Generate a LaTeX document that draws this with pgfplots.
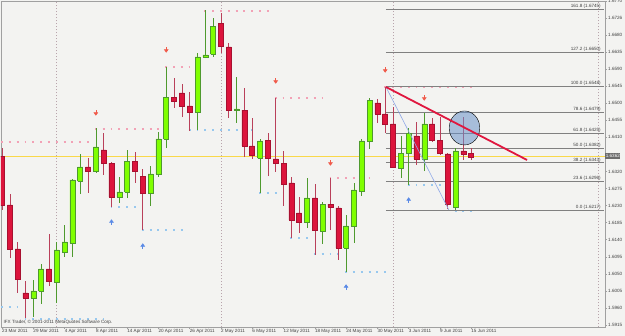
\documentclass[border=0pt]{standalone}
\usepackage{pgfplots}
\pgfplotsset{compat=1.18}
\usepackage{pgfplotstable}
\usepackage{fontspec}
\setmainfont{Liberation Sans}
\usetikzlibrary{backgrounds}

\definecolor{bg}{HTML}{F3F3F1}
\definecolor{bullfill}{HTML}{7FFF00}
\definecolor{bulledge}{HTML}{4E9A2E}
\definecolor{bearfill}{HTML}{DC143C}
\definecolor{bearedge}{HTML}{A81030}
\definecolor{fibgray}{HTML}{808080}
\definecolor{pinkdot}{HTML}{F2A2B6}
\definecolor{bluedot}{HTML}{98C8EE}
\definecolor{arrowred}{HTML}{F05A4A}
\definecolor{arrowblue}{HTML}{5A8AE6}
\definecolor{sepcol}{HTML}{B8A4AC}
\definecolor{yel}{HTML}{F9D84A}
\definecolor{trend}{HTML}{E0173F}
\definecolor{blueline}{HTML}{8FA8E8}
\definecolor{circ}{HTML}{6A92C8}
\definecolor{labelcol}{HTML}{404040}
\definecolor{framecol}{HTML}{A0A0A0}

\newcommand\tinyf{\fontsize{4.6}{5.2}\selectfont}

\pgfdeclareplotmark{fracdown}{%
  \pgfpathmoveto{\pgfqpoint{0pt}{2.8pt}}\pgfpathlineto{\pgfqpoint{0pt}{-0.5pt}}\pgfusepathqstroke
  \pgfpathmoveto{\pgfqpoint{-1.8pt}{0.3pt}}\pgfpathlineto{\pgfqpoint{1.8pt}{0.3pt}}%
  \pgfpathlineto{\pgfqpoint{0pt}{-2.2pt}}\pgfpathclose\pgfusepathqfillstroke}
\pgfdeclareplotmark{fracup}{%
  \pgfpathmoveto{\pgfqpoint{0pt}{-2.8pt}}\pgfpathlineto{\pgfqpoint{0pt}{0.5pt}}\pgfusepathqstroke
  \pgfpathmoveto{\pgfqpoint{-1.8pt}{-0.3pt}}\pgfpathlineto{\pgfqpoint{1.8pt}{-0.3pt}}%
  \pgfpathlineto{\pgfqpoint{0pt}{2.2pt}}\pgfpathclose\pgfusepathqfillstroke}

\tikzset{
  bull wick/.style={bulledge, line width=0.6pt},
  bear wick/.style={bearedge!80!white, line width=0.6pt},
  bull body/.style={fill=bullfill, draw=bulledge, line width=0.5pt},
  bear body/.style={fill=bearfill, draw=bearedge, line width=0.5pt},
  pinklevel/.style={pinkdot, line width=1.9pt, dash pattern=on 1.9pt off 5.92pt},
  bluelevel/.style={bluedot, line width=1.9pt, dash pattern=on 1.9pt off 5.92pt},
  fibline/.style={fibgray, line width=0.8pt},
  fiblabel/.style={anchor=south east, inner sep=0.4pt, font=\tinyf, text=labelcol},
  sep/.style={sepcol, line width=0.6pt, dash pattern=on 1pt off 2pt},
}

% daily candles: index, open, high, low, close
\pgfplotstableread{
i o h l c
0 1.63609 1.63820 1.62184 1.62316
1 1.62316 1.62606 1.60917 1.61155
2 1.61155 1.61340 1.59994 1.60363
3 1.59994 1.60310 1.59334 1.59862
4 1.59862 1.60337 1.59360 1.60047
5 1.60047 1.60759 1.59703 1.60627
6 1.60627 1.61551 1.60179 1.60310
7 1.60284 1.61340 1.59730 1.61129
8 1.61076 1.61788 1.60944 1.61340
9 1.61313 1.63002 1.60944 1.62976
10 1.62949 1.63662 1.62606 1.63319
11 1.63319 1.63556 1.62633 1.63213
12 1.63213 1.64348 1.63161 1.63847
13 1.63768 1.64216 1.63108 1.63424
14 1.63424 1.63451 1.62263 1.62527
15 1.62527 1.63055 1.62369 1.62659
16 1.62659 1.63768 1.62501 1.63477
17 1.63477 1.63715 1.62897 1.63213
18 1.63081 1.63266 1.61656 1.62633
19 1.62633 1.63345 1.62290 1.63134
20 1.63134 1.64243 1.63055 1.64058
21 1.64058 1.65958 1.63820 1.65166
22 1.65166 1.65668 1.64876 1.65061
23 1.65272 1.65509 1.64638 1.64929
24 1.64929 1.65298 1.64269 1.64770
25 1.64770 1.66327 1.64295 1.66222
26 1.66222 1.67462 1.66195 1.66275
27 1.66301 1.67251 1.66222 1.67040
28 1.67119 1.67383 1.66327 1.66512
29 1.66486 1.66591 1.64612 1.64823
30 1.64823 1.65694 1.64480 1.64850
31 1.64823 1.65404 1.63583 1.63873
32 1.63873 1.64612 1.63530 1.63636
33 1.63556 1.64058 1.62633 1.64005
34 1.64031 1.64216 1.63081 1.63556
35 1.63530 1.65140 1.63187 1.63424
36 1.63424 1.63741 1.62290 1.62870
37 1.62897 1.63055 1.61445 1.61920
38 1.62105 1.62527 1.61577 1.61867
39 1.61867 1.63029 1.61709 1.62501
40 1.62501 1.62870 1.60997 1.61656
41 1.61630 1.62395 1.61287 1.62342
42 1.62342 1.63029 1.61656 1.62263
43 1.62237 1.62290 1.60865 1.61181
44 1.61181 1.62052 1.60548 1.61762
45 1.61762 1.62897 1.61313 1.62712
46 1.62685 1.64058 1.62554 1.64005
47 1.64005 1.65140 1.63794 1.65087
48 1.65008 1.65113 1.64480 1.64718
49 1.64718 1.65430 1.64216 1.64454
50 1.64454 1.64902 1.63293 1.63319
51 1.63293 1.64137 1.63029 1.63688
52 1.63688 1.64348 1.62844 1.64216
53 1.64137 1.64506 1.63372 1.63530
54 1.63530 1.64744 1.63213 1.64454
55 1.64454 1.64612 1.63979 1.64031
56 1.64031 1.64638 1.63636 1.63688
57 1.63662 1.63688 1.62211 1.62342
58 1.62263 1.63820 1.62184 1.63741
59 1.63741 1.64638 1.63504 1.63662
60 1.63688 1.63820 1.63504 1.63583
}\ohlc

\begin{document}
\begin{tikzpicture}
\begin{axis}[
  scale only axis, width=604pt, height=326pt,
  xmin=-0.128, xmax=77.11, ymin=1.59096, ymax=1.67700,
  clip mode=individual,
  axis background/.style={fill=bg},
  axis line style={draw=framecol, line width=0.7pt},
  tick align=outside, major tick length=2pt,
  tick style={framecol, line width=0.5pt},
  xtick pos=bottom, ytick pos=right,
  scaled y ticks=false, scaled x ticks=false,
  xtick={0,4,8,12,16,20,24,28,32,36,40,44,48,52,56,60},
  xticklabels={23 Mar 2011, 29 Mar 2011, 4 Apr 2011, 8 Apr 2011, 14 Apr 2011, 20 Apr 2011, 26 Apr 2011, 2 May 2011, 6 May 2011, 12 May 2011, 18 May 2011, 24 May 2011, 30 May 2011, 3 Jun 2011, 9 Jun 2011, 15 Jun 2011},
  xticklabel style={anchor=north west, inner sep=0.5pt, xshift=-0.5pt, font=\tinyf, text=labelcol},
  ytick={1.5915,1.5960,1.6005,1.6050,1.6095,1.6140,1.6185,1.6230,1.6275,1.6320,1.6410,1.6455,1.6500,1.6545,1.6590,1.6635,1.6680,1.6725,1.6770},
  yticklabels={1.5915,1.5960,1.6005,1.6050,1.6095,1.6140,1.6185,1.6230,1.6275,1.6320,1.6410,1.6455,1.6500,1.6545,1.6590,1.6635,1.6680,1.6726,1.6770},
  yticklabel style={anchor=west, inner sep=0.5pt, xshift=0.5pt, font=\tinyf, text=labelcol},
]
% period separators
\addplot[sep] coordinates {(7,1.5909) (7,1.6771)};
\addplot[sep] coordinates {(28,1.5909) (28,1.6771)};
\addplot[sep] coordinates {(50,1.5909) (50,1.6771)};
\addplot[sep] coordinates {(76.2,1.5909) (76.2,1.6771)};

% yellow horizontal line
\addplot[yel, line width=0.9pt] coordinates {(-0.2,1.63609) (78,1.63609)};

% fractal levels (dots on each bar)
\addplot[pinklevel] coordinates {(-0.12,1.63979) (11.1,1.63979)};
\addplot[pinklevel] coordinates {(11.88,1.64322) (20.1,1.64322)};
\addplot[pinklevel] coordinates {(20.88,1.65958) (24.1,1.65958)};
\addplot[pinklevel] coordinates {(25.88,1.67436) (34.1,1.67436)};
\addplot[pinklevel] coordinates {(34.88,1.65140) (41.1,1.65140)};
\addplot[pinklevel] coordinates {(41.88,1.63029) (47.1,1.63029)};
\addplot[pinklevel] coordinates {(48.88,1.65430) (60.1,1.65430)};
\addplot[bluelevel] coordinates {(-0.12,1.59624) (2.1,1.59624)};
\addplot[bluelevel] coordinates {(2.88,1.59308) (13.1,1.59308)};
\addplot[bluelevel] coordinates {(13.88,1.62263) (17.1,1.62263)};
\addplot[bluelevel] coordinates {(17.88,1.61656) (23.1,1.61656)};
\addplot[bluelevel] coordinates {(23.88,1.64295) (32.1,1.64295)};
\addplot[bluelevel] coordinates {(32.88,1.62633) (36.1,1.62633)};
\addplot[bluelevel] coordinates {(36.88,1.61445) (39.1,1.61445)};
\addplot[bluelevel] coordinates {(39.88,1.61023) (43.1,1.61023)};
\addplot[bluelevel] coordinates {(43.88,1.60548) (49.1,1.60548)};
\addplot[bluelevel] coordinates {(51.88,1.62844) (56.1,1.62844)};
\addplot[bluelevel] coordinates {(57.88,1.62158) (60.1,1.62158)};

% Fibonacci retracement
\addplot[fibline] coordinates {(49.1,1.67470) (76.95,1.67470)} node[fiblabel, pos=0.99] {161.8 (1.6745)};
\addplot[fibline] coordinates {(49.1,1.66354) (76.95,1.66354)} node[fiblabel, pos=0.99] {127.2 (1.6650)};
\addplot[fibline] coordinates {(49.1,1.65456) (76.95,1.65456)} node[fiblabel, pos=0.99] {100.0 (1.6548)};
\addplot[fibline] coordinates {(49.1,1.64760) (76.95,1.64760)} node[fiblabel, pos=0.99] {78.6 (1.6479)};
\addplot[fibline] coordinates {(49.1,1.64203) (76.95,1.64203)} node[fiblabel, pos=0.99] {61.8 (1.6425)};
\addplot[fibline] coordinates {(49.1,1.63815) (76.95,1.63815)} node[fiblabel, pos=0.99] {50.0 (1.6382)};
\addplot[fibline] coordinates {(49.1,1.63430) (76.95,1.63430)} node[fiblabel, pos=0.99] {38.2 (1.6343)};
\addplot[fibline] coordinates {(49.1,1.62943) (76.95,1.62943)} node[fiblabel, pos=0.99] {23.6 (1.6296)};
\addplot[fibline] coordinates {(49.1,1.62171) (76.95,1.62171)} node[fiblabel, pos=0.99] {0.0 (1.6217)};

% candles
\pgfplotstablegetrowsof{\ohlc}
\pgfmathtruncatemacro{\lastrow}{\pgfplotsretval-1}
\pgfplotsinvokeforeach{0,...,\lastrow}{%
  \pgfplotstablegetelem{#1}{i}\of\ohlc \edef\ci{\pgfplotsretval}%
  \pgfplotstablegetelem{#1}{o}\of\ohlc \edef\co{\pgfplotsretval}%
  \pgfplotstablegetelem{#1}{h}\of\ohlc \edef\ch{\pgfplotsretval}%
  \pgfplotstablegetelem{#1}{l}\of\ohlc \edef\cl{\pgfplotsretval}%
  \pgfplotstablegetelem{#1}{c}\of\ohlc \edef\cc{\pgfplotsretval}%
  \pgfmathsetmacro{\xa}{\ci-0.32}%
  \pgfmathsetmacro{\xb}{\ci+0.32}%
  \ifdim\cc pt<\co pt \def\cstyle{bear}\else\def\cstyle{bull}\fi
  \edef\tmp{\noexpand\addplot[\cstyle\space wick] coordinates {(\ci,\cl) (\ci,\ch)};
    \noexpand\addplot[\cstyle\space body] coordinates {(\xa,\co) (\xb,\co) (\xb,\cc) (\xa,\cc) (\xa,\co)};}%
  \tmp
}

% fractal arrows
\addplot[only marks, mark=fracdown, mark options={draw=arrowred, fill=arrowred, line width=0.6pt}]
  coordinates {(12,1.64744) (21,1.66407) (35,1.65588) (42,1.63424) (49,1.65879) (54,1.65140)};
\addplot[only marks, mark=fracup, mark options={draw=arrowblue, fill=arrowblue, line width=0.6pt}]
  coordinates {(14,1.61867) (18,1.61234) (44,1.60152) (52,1.62448)};

% highlight circle
\addplot[only marks, mark=*, mark size=17pt, mark options={xscale=0.9, fill=circ, draw=none, fill opacity=0.55}]
  coordinates {(59.14,1.64349)};

% high-to-low line and trend line
\addplot[blueline, line width=0.6pt] coordinates {(49.1,1.65430) (57.15,1.62184)};
\addplot[trend, line width=1.8pt] coordinates {(49.1,1.65430) (67.14,1.63504)};

% copyright
\node[anchor=south west, inner sep=0pt, font=\tinyf, text=labelcol] at (rel axis cs:0.004,0.006) {IFX Trader, © 2001-2011 MetaQuotes Software Corp.};

% current price box
\node[anchor=west, fill=gray!85!black, text=white, inner sep=0.6pt, minimum height=5.5pt, font=\tinyf] at (axis cs:77.11,1.63609) {1.6362};
\end{axis}
\begin{pgfonlayer}{background}
\fill[bg] ([xshift=-1pt,yshift=-9pt]current axis.south west) rectangle ([xshift=20pt,yshift=1pt]current axis.north east);
\end{pgfonlayer}
\pgfresetboundingbox
\path[use as bounding box] ([xshift=-1pt,yshift=-9pt]current axis.south west) rectangle ([xshift=20pt,yshift=1pt]current axis.north east);
\end{tikzpicture}
\end{document}
